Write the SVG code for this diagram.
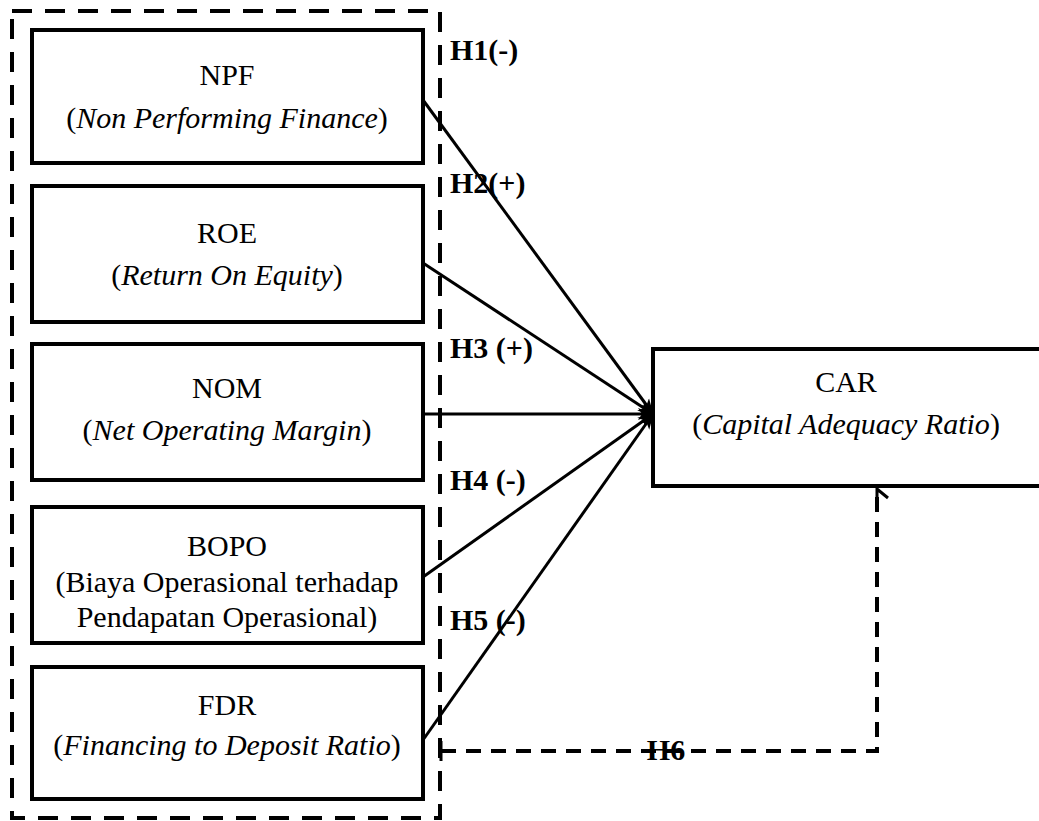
<svg xmlns="http://www.w3.org/2000/svg" width="1039" height="821" viewBox="0 0 1039 821">
<style>
.box{fill:#fff;stroke:#000;stroke-width:4}
.t{font-family:"Liberation Serif","Times New Roman",serif;font-size:30px;text-anchor:middle;fill:#000}
.i{font-style:italic}
.lbl{font-family:"Liberation Serif","Times New Roman",serif;font-size:30px;font-weight:bold;fill:#000}
.ln{stroke:#000;stroke-width:3;fill:none}
.dash{stroke:#000;stroke-width:4;fill:none;stroke-dasharray:20 13}
.dash2{stroke:#000;stroke-width:4;fill:none;stroke-dasharray:15 10}
</style>
<defs>
<marker id="ah" markerWidth="16" markerHeight="14" refX="15" refY="7" orient="auto" markerUnits="userSpaceOnUse">
<path d="M0,1 L16,7 L0,13 L4,7 z" fill="#000"/>
</marker>
</defs>
<rect width="1039" height="821" fill="#fff"/>
<g id="frame">
<rect class="dash" x="12" y="11" width="428" height="807"/>
</g>
<g id="npf">
<rect class="box" x="32" y="30" width="391" height="133"/>
<text class="t" x="227" y="85">NPF</text>
<text class="t" x="227" y="128">(<tspan class="i">Non Performing Finance</tspan>)</text>
</g>
<g id="roe">
<rect class="box" x="32" y="186" width="391" height="136"/>
<text class="t" x="227" y="243">ROE</text>
<text class="t" x="227" y="285">(<tspan class="i">Return On Equity</tspan>)</text>
</g>
<g id="nom">
<rect class="box" x="32" y="344" width="391" height="136"/>
<text class="t" x="227" y="398">NOM</text>
<text class="t" x="227" y="440">(<tspan class="i">Net Operating Margin</tspan>)</text>
</g>
<g id="bopo">
<rect class="box" x="32" y="507" width="391" height="136"/>
<text class="t" x="227" y="556">BOPO</text>
<text class="t" x="227" y="592">(Biaya Operasional terhadap</text>
<text class="t" x="227" y="627">Pendapatan Operasional)</text>
</g>
<g id="fdr">
<rect class="box" x="32" y="667" width="391" height="132"/>
<text class="t" x="227" y="715">FDR</text>
<text class="t" x="227" y="755">(<tspan class="i">Financing to Deposit Ratio</tspan>)</text>
</g>
<g id="car">
<rect class="box" x="653" y="349" width="400" height="137"/>
<text class="t" x="846" y="392">CAR</text>
<text class="t" x="846" y="434">(<tspan class="i">Capital Adequacy Ratio</tspan>)</text>
</g>
<g id="connectors">
<line class="ln" x1="423" y1="100" x2="653" y2="414" marker-end="url(#ah)"/>
<line class="ln" x1="423" y1="263" x2="653" y2="414" marker-end="url(#ah)"/>
<line class="ln" x1="423" y1="414" x2="653" y2="414" marker-end="url(#ah)"/>
<line class="ln" x1="423" y1="577" x2="653" y2="414" marker-end="url(#ah)"/>
<line class="ln" x1="423" y1="740" x2="653" y2="414" marker-end="url(#ah)"/>
<path class="dash2" d="M441,751 L877,751 L877,490"/>
<line class="ln" x1="441" y1="741" x2="441" y2="761"/>
<path class="ln" d="M877,502 L877,489 L888,498"/>
</g>
<g id="labels">
<text class="lbl" x="450" y="60">H1(-)</text>
<text class="lbl" x="450" y="193">H2(+)</text>
<text class="lbl" x="450" y="358">H3 (+)</text>
<text class="lbl" x="450" y="490">H4 (-)</text>
<text class="lbl" x="450" y="630">H5 (-)</text>
<text class="lbl" x="666" y="760" text-anchor="middle">H6</text>
</g>
</svg>
